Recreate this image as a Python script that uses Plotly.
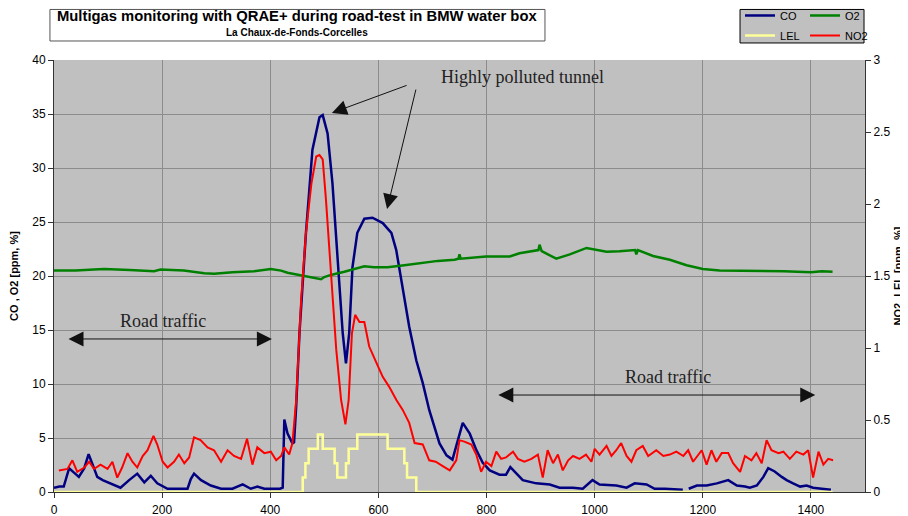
import plotly.graph_objects as go

# ---------------- data ----------------
co_t = [0, 10, 18, 28, 37, 46, 56, 64, 71, 80, 90, 105, 114, 123, 139, 154, 167, 179, 191, 210,
        230, 247, 253, 259, 272, 290, 309, 330, 349, 364, 376, 389, 405, 418, 423, 426, 432, 441,
        444, 448, 454, 466, 478, 491, 497, 506, 515, 525, 534, 540, 546, 552, 561, 574, 589, 608,
        624, 633, 645, 657, 670, 682, 694, 713, 726, 737, 747, 756, 769, 781, 793, 806, 824, 836,
        844, 855, 867, 892, 917, 935, 960, 978, 996, 1009, 1040, 1059, 1074, 1096, 1111, 1130,
        1163, 1166, 1174, 1189, 1207, 1226, 1247, 1263, 1278, 1287, 1300, 1312, 1321, 1333, 1346,
        1355, 1367, 1380, 1392, 1404, 1420, 1437]
co_ppm = [0.4, 0.5, 0.5, 2.2, 1.8, 1.4, 2.2, 3.5, 2.6, 1.4, 1.1, 0.8, 0.6, 0.4, 1.1, 1.7, 0.9, 1.5, 0.8, 0.3,
          0.3, 0.3, 1.2, 1.7, 1.1, 0.6, 0.3, 0.3, 0.7, 0.3, 0.5, 0.3, 0.3, 0.3, 0.4, 6.7, 5.4, 4.5,
          4.6, 8.0, 14.7, 24.0, 31.7, 34.7, 34.9, 33.2, 28.6, 20.8, 14.7, 11.9, 14.7, 20.8, 24.0, 25.3, 25.4, 24.9,
          24.0, 22.4, 19.0, 15.3, 12.2, 10.1, 7.6, 4.5, 3.4, 3.0, 4.8, 6.4, 5.4, 3.9, 2.7, 2.0, 1.6, 1.6,
          2.3, 1.7, 1.1, 0.8, 0.7, 0.4, 0.4, 0.3, 1.1, 0.7, 0.6, 0.4, 0.8, 0.7, 0.3, 0.3,
          0.2, None, 0.3, 0.6, 0.6, 0.8, 1.1, 0.6, 0.5, 0.4, 0.6, 1.4, 2.2, 1.9, 1.4,
          1.1, 0.8, 0.5, 0.6, 0.4, 0.3, 0.2]

o2_t = [0, 40, 74, 93, 140, 185, 197, 240, 278, 296, 330, 370, 401, 420, 432, 463, 480, 494, 500,
        512, 537, 574, 592, 617, 648, 679, 710, 741, 748, 750, 752, 799, 843, 861, 896, 898, 902,
        929, 954, 985, 997, 1022, 1046, 1075, 1077, 1080, 1108, 1139, 1170, 1200, 1231, 1300, 1350,
        1400, 1420, 1440]
o2_pct = [20.5, 20.5, 20.6, 20.65, 20.55, 20.45, 20.6, 20.5, 20.25, 20.2, 20.35, 20.45, 20.65, 20.5, 20.3, 20.0, 19.9, 19.7, 19.9,
          20.1, 20.4, 20.9, 20.8, 20.8, 21.0, 21.2, 21.4, 21.5, 21.6, 22.0, 21.6, 21.8, 21.8, 22.1, 22.4, 22.9, 22.3,
          21.6, 22.0, 22.6, 22.5, 22.25, 22.3, 22.4, 22.0, 22.4, 21.85, 21.5, 21.0, 20.65, 20.5, 20.5, 20.45,
          20.35, 20.45, 20.4]

no2_t = [9, 25, 34, 43, 56, 65, 74, 86, 99, 108, 117, 126, 136, 145, 154, 164, 173, 184, 191, 201,
         210, 222, 231, 241, 250, 259, 271, 284, 296, 309, 321, 333, 346, 357, 367, 376, 389, 401,
         411, 420, 426, 435, 441, 448, 457, 466, 476, 485, 491, 497, 503, 509, 515, 522, 531, 539,
         545, 551, 557, 565, 574, 583, 596, 608, 620, 633, 645, 657, 667, 682, 694, 706, 719, 732,
         744, 750, 759, 772, 781, 790, 799, 809, 818, 827, 836, 849, 858, 870, 883, 895, 904, 913,
         923, 932, 941, 951, 960, 972, 984, 994, 1000, 1009, 1022, 1031, 1040, 1049, 1059, 1068,
         1077, 1089, 1099, 1114, 1127, 1139, 1151, 1164, 1173, 1182, 1198, 1207, 1216, 1225, 1235,
         1247, 1256, 1269, 1278, 1290, 1299, 1309, 1318, 1327, 1340, 1349, 1361, 1373, 1386, 1395,
         1404, 1414, 1423, 1432, 1441]
no2_ppm = [0.15, 0.16, 0.22, 0.14, 0.17, 0.21, 0.16, 0.19, 0.16, 0.21, 0.10, 0.17, 0.27, 0.21, 0.17, 0.25, 0.29, 0.39, 0.33, 0.21,
           0.17, 0.21, 0.26, 0.20, 0.24, 0.38, 0.36, 0.31, 0.29, 0.21, 0.29, 0.25, 0.23, 0.37, 0.19, 0.31, 0.27, 0.28,
           0.22, 0.25, 0.31, 0.26, 0.34, 0.64, 1.33, 1.80, 2.14, 2.33, 2.34, 2.31, 2.03, 1.68, 1.33, 0.99, 0.64, 0.47,
           0.64, 1.10, 1.23, 1.18, 1.18, 1.01, 0.90, 0.80, 0.73, 0.64, 0.57, 0.48, 0.34, 0.33, 0.22, 0.21, 0.18, 0.15,
           0.22, 0.36, 0.35, 0.33, 0.26, 0.14, 0.21, 0.18, 0.28, 0.23, 0.24, 0.28, 0.23, 0.21, 0.23, 0.26, 0.10, 0.29,
           0.20, 0.26, 0.15, 0.22, 0.25, 0.23, 0.26, 0.21, 0.30, 0.26, 0.32, 0.25, 0.29, 0.34, 0.25, 0.21,
           0.29, 0.32, 0.25, 0.29, 0.25, 0.26, 0.28, 0.25, 0.29, 0.21, 0.29, 0.19, 0.29, 0.21, 0.27,
           0.27, 0.20, 0.14, 0.25, 0.22, 0.27, 0.20, 0.36, 0.29, 0.27, 0.28, 0.23, 0.28, 0.26, 0.29,
           0.10, 0.28, 0.19, 0.23, 0.22]

lel_t = [0, 460, 465, 471, 488, 497, 519, 524, 540, 545, 561, 617, 648, 653, 670, 1440]
lel_pct = [0, 0.1, 0.2, 0.3, 0.4, 0.3, 0.2, 0.1, 0.2, 0.3, 0.4, 0.3, 0.2, 0.1, 0, 0]

x_ticks = [0, 200, 400, 600, 800, 1000, 1200, 1400]

# ---------------- figure ----------------
FONT = "Liberation Sans, Arial, sans-serif"
SERIF = "Liberation Serif, Times New Roman, serif"

fig = go.Figure()
fig.add_trace(go.Scatter(x=co_t, y=co_ppm, name="CO", mode="lines",
                         line=dict(color="#000080", width=2.5), legend="legend", connectgaps=False))
fig.add_trace(go.Scatter(x=o2_t, y=o2_pct, name="O2", mode="lines",
                         line=dict(color="#008000", width=2.5), legend="legend"))
fig.add_trace(go.Scatter(x=lel_t, y=lel_pct, name="LEL", mode="lines", yaxis="y2",
                         line=dict(color="#FFFF99", width=2.5, shape="hv"), legend="legend2"))
fig.add_trace(go.Scatter(x=no2_t, y=no2_ppm, name="NO2", mode="lines", yaxis="y2",
                         line=dict(color="#FF0000", width=2), legend="legend2"))

AH = dict(showarrow=True, arrowhead=2, arrowsize=3, arrowwidth=1, arrowcolor="#111", standoff=0,
          xref="x", yref="y", axref="x", ayref="y", text="")
annots = []
annots.append(dict(x=866, y=38.4, xref="x", yref="y", text="Highly polluted tunnel", showarrow=False,
                   font=dict(family=SERIF, size=18, color="#222")))
annots.append(dict(x=514, y=35.1, ax=655, ay=37.7, **AH))
annots.append(dict(x=616, y=26.2, ax=670, ay=37.4, **AH))
annots.append(dict(x=202, y=15.8, xref="x", yref="y", text="Road traffic", showarrow=False,
                   font=dict(family=SERIF, size=18, color="#222")))
annots.append(dict(x=403, y=14.17, ax=24, ay=14.17, arrowside="end+start", startarrowhead=2,
                   startarrowsize=3, startstandoff=0, **AH))
annots.append(dict(x=1136, y=10.65, xref="x", yref="y", text="Road traffic", showarrow=False,
                   font=dict(family=SERIF, size=18, color="#222")))
annots.append(dict(x=1408, y=8.98, ax=819, ay=8.98, arrowside="end+start", startarrowhead=2,
                   startarrowsize=3, startstandoff=0, **AH))
# title box text
annots.append(dict(x=0.2996, y=1.1019, xref="paper", yref="paper", showarrow=False,
                   text="<b>Multigas monitoring with QRAE+ during road-test in BMW water box</b>",
                   font=dict(family=FONT, size=14.8, color="#000"), xanchor="center", yanchor="middle"))
annots.append(dict(x=0.2996, y=1.0648, xref="paper", yref="paper", showarrow=False,
                   text="<b>La Chaux-de-Fonds-Corcelles</b>",
                   font=dict(family=FONT, size=10, color="#000"), xanchor="center", yanchor="middle"))

shapes = [
    dict(type="rect", xref="paper", yref="paper", x0=-0.005, x1=0.6054, y0=1.044, y1=1.117,
         line=dict(color="#555", width=1), fillcolor="white"),
    dict(type="rect", xref="paper", yref="paper", x0=0.8459, x1=0.9988, y0=1.0394, y1=1.117,
         line=dict(color="#000", width=1), fillcolor="#C0C0C0"),
]

fig.update_layout(
    width=900, height=508,
    margin=dict(l=46, r=43, t=52, b=24, autoexpand=False),
    paper_bgcolor="white", plot_bgcolor="#C0C0C0",
    font=dict(family=FONT, size=12, color="#000"),
    annotations=annots, shapes=shapes,
    xaxis=dict(range=[0, 1500], tickvals=x_ticks, ticks="outside", ticklen=5, tickcolor="#333",
               showline=True, linecolor="#333", linewidth=1, showgrid=True, gridcolor="#8C8C8C",
               gridwidth=1, zeroline=False, ticklabelstandoff=2, tickfont=dict(size=12)),
    yaxis=dict(range=[0, 40], dtick=5, ticks="outside", ticklen=5, tickcolor="#333",
               showline=True, linecolor="#333", linewidth=1, showgrid=True, gridcolor="#8C8C8C",
               gridwidth=1, zeroline=False, tickfont=dict(size=12),
               title=dict(text="CO , O2 [ppm, %]", standoff=16,
                          font=dict(size=11, weight="bold"))),
    yaxis2=dict(range=[0, 3], dtick=0.5, overlaying="y", side="right", ticks="outside", ticklen=5,
                tickcolor="#333", showline=True, linecolor="#333", linewidth=1, showgrid=False,
                zeroline=False, tickfont=dict(size=12),
                title=dict(text="NO2, LEL [ppm, %]", standoff=4,
                           font=dict(size=11, weight="bold"))),
    legend=dict(orientation="h", x=0.8459, y=1.1366, xanchor="left", yanchor="top",
                bgcolor="rgba(0,0,0,0)", borderwidth=0, font=dict(size=11),
                entrywidth=20, entrywidthmode="pixels", itemwidth=30),
    legend2=dict(orientation="h", x=0.8459, y=1.0903, xanchor="left", yanchor="top",
                 bgcolor="rgba(0,0,0,0)", borderwidth=0, font=dict(size=11),
                 entrywidth=20, entrywidthmode="pixels", itemwidth=30),
)

fig.write_html("out.html")
